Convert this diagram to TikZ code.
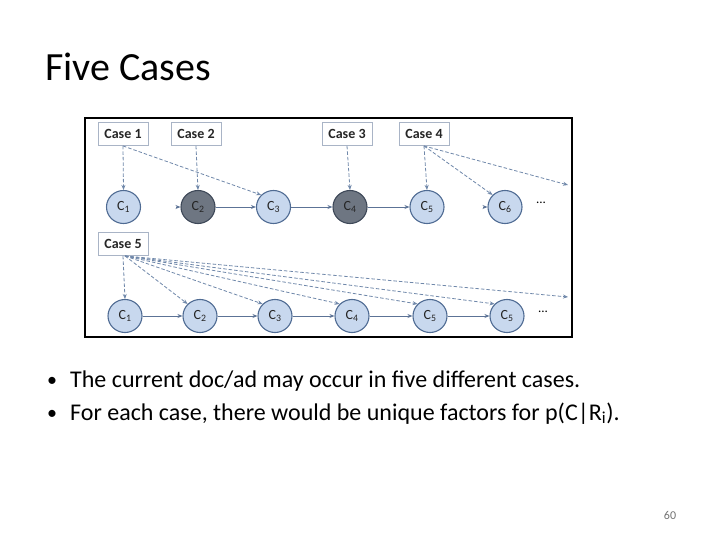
\documentclass[tikz,border=0pt]{standalone}
\usepackage{fontspec}
\setmainfont{Carlito}
\usetikzlibrary{arrows.meta,shapes.geometric}
\definecolor{nodefill}{HTML}{C8D8EE}
\definecolor{nodeedge}{HTML}{4F6B93}
\definecolor{darkfill}{HTML}{6E7682}
\definecolor{darkedge}{HTML}{3E4858}
\definecolor{boxedge}{HTML}{A9B4C6}
\definecolor{dashcol}{HTML}{7088AA}
\definecolor{solidcol}{HTML}{5C7396}
\tikzset{
  cnode/.style={ellipse, draw=nodeedge, fill=nodefill, line width=1.1pt, minimum width=34pt, minimum height=33pt, inner sep=0pt, font=\fontsize{14}{16}\selectfont, text=black!85},
  dnode/.style={cnode, draw=darkedge, fill=darkfill},
  casebox/.style={draw=boxedge, fill=white, line width=0.9pt, minimum width=50pt, minimum height=23pt, inner sep=0pt, font=\bfseries\fontsize{14}{16}\selectfont, text=black!85},
  dasharrow/.style={draw=dashcol, line width=0.8pt, dash pattern=on 3.5pt off 2pt, -{Stealth[length=5pt,width=4pt]}},
  solidarrow/.style={draw=solidcol, line width=0.9pt, -{Stealth[length=5pt,width=4pt]}},
  bullettext/.style={anchor=base west, inner sep=0pt, font=\fontsize{24}{28}\selectfont},
}
\begin{document}
\begin{tikzpicture}[x=1pt,y=-1pt]
\useasboundingbox (0,0) rectangle (720,540);
\fill[white] (0,0) rectangle (720,540);
% title
\node[anchor=base west, inner sep=0pt, font=\fontsize{40}{46}\selectfont] (title) at (45,81) {Five Cases};
% frame
\draw[line width=1.2pt, black] (85,118) rectangle (572,337);
% case boxes
\node[casebox] (case1) at (123,134) {Case 1};
\node[casebox] (case2) at (196,134) {Case 2};
\node[casebox] (case3) at (347,134) {Case 3};
\node[casebox] (case4) at (424,134) {Case 4};
\node[casebox] (case5) at (123,244) {Case 5};
% top row
\node[cnode] (a1) at (123.5,207) {C\textsubscript{1}};
\node[dnode] (a2) at (198,207) {C\textsubscript{2}};
\node[cnode] (a3) at (273.5,207) {C\textsubscript{3}};
\node[dnode] (a4) at (350,207) {C\textsubscript{4}};
\node[cnode] (a5) at (427,207) {C\textsubscript{5}};
\node[cnode] (a6) at (505,207) {C\textsubscript{6}};
\node[font=\fontsize{13}{15}\selectfont] (adots) at (541,203) {...};
% bottom row
\node[cnode] (b1) at (125,316) {C\textsubscript{1}};
\node[cnode] (b2) at (200,316) {C\textsubscript{2}};
\node[cnode] (b3) at (275,316) {C\textsubscript{3}};
\node[cnode] (b4) at (352,316) {C\textsubscript{4}};
\node[cnode] (b5) at (430,316) {C\textsubscript{5}};
\node[cnode] (b6) at (507,316) {C\textsubscript{5}};
\node[font=\fontsize{13}{15}\selectfont] (bdots) at (543,312) {...};
% solid arrows top
\coordinate (s2) at ([xshift=-4pt]a2.west);
\coordinate (s6) at ([xshift=-4pt]a6.west);
\draw[solidarrow] (s2) -- (a2);
\draw[solidarrow] (a2) -- (a3);
\draw[solidarrow] (a3) -- (a4);
\draw[solidarrow] (a4) -- (a5);
\draw[solidarrow] (s6) -- (a6);
% solid arrows bottom
\draw[solidarrow] (b1) -- (b2);
\draw[solidarrow] (b2) -- (b3);
\draw[solidarrow] (b3) -- (b4);
\draw[solidarrow] (b4) -- (b5);
\draw[solidarrow] (b5) -- (b6);
% dashed arrows top
\draw[dasharrow] (case1.south) -- (a1.north);
\draw[dasharrow] (case1.south) -- (a3.north west);
\draw[dasharrow] (case2.south) -- (a2.north);
\draw[dasharrow] (case3.south) -- (a4.north);
\draw[dasharrow] (case4.south) -- (a5.north);
\draw[dasharrow] (case4.south) -- (a6.north west);
\coordinate (aend) at (568,185);
\draw[dasharrow] (case4.south) -- (aend);
% dashed arrows bottom
\coordinate (c5o) at ([xshift=2pt]case5.south);
\draw[dasharrow] (case5.south) -- (b1.north);
\draw[dasharrow] (c5o) -- (b2.north west);
\draw[dasharrow] (c5o) -- (b3.north west);
\draw[dasharrow] (c5o) -- (b4.north west);
\draw[dasharrow] (c5o) -- (b5.north west);
\draw[dasharrow] (c5o) -- (b6.north west);
\coordinate (bend) at (568,297);
\draw[dasharrow] (c5o) -- (bend);
% bullets
\node[bullettext, font=\fontsize{20}{24}\selectfont] (bul1) at (47,386) {•};
\node[bullettext] (txt1) at (70,387) {The current doc/ad may occur in five different cases.};
\node[bullettext, font=\fontsize{20}{24}\selectfont] (bul2) at (47,419) {•};
\node[bullettext] (txt2) at (70,420) {For each case, there would be unique factors for p(C|R\textsubscript{i}).};
% slide number
\node[anchor=base, inner sep=0pt, font=\fontsize{12}{14}\selectfont, text=black!55] (num) at (670,519) {60};
\end{tikzpicture}
\end{document}
